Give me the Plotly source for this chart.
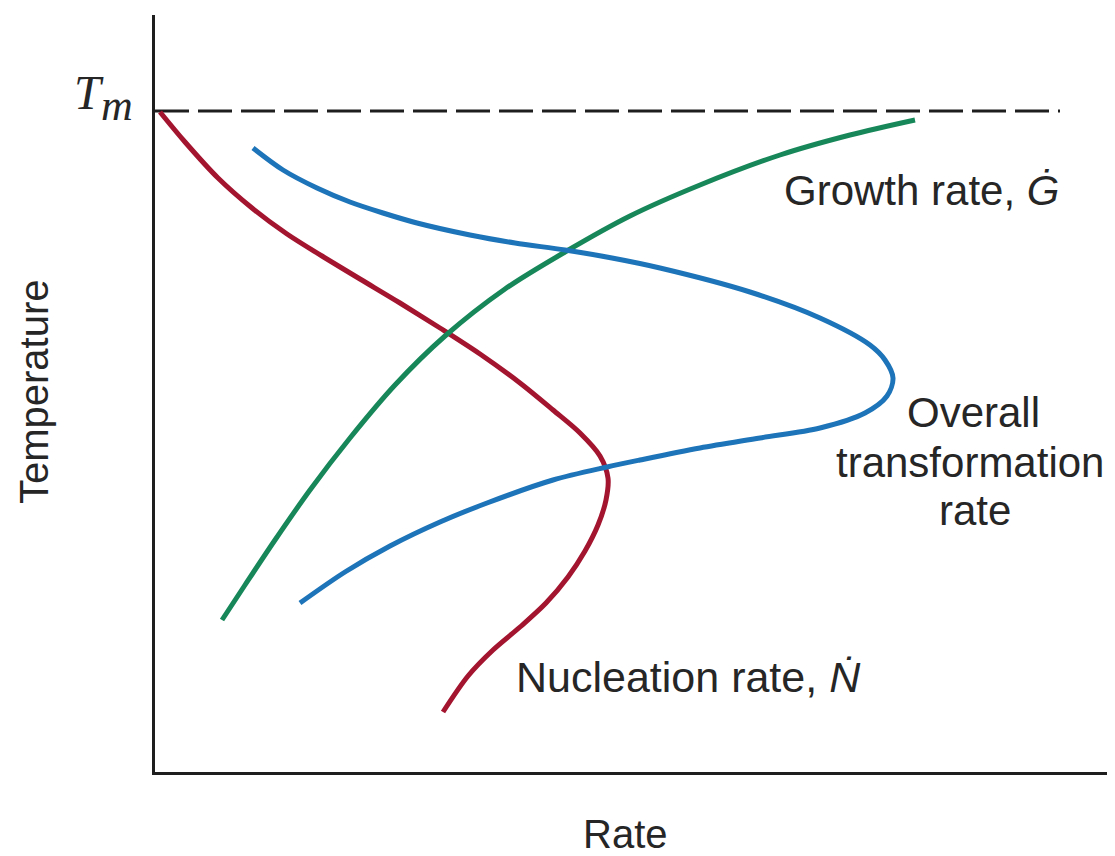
import plotly.graph_objects as go

# Data (rate, temperature) in arbitrary units
nuc_rate = [5, 30, 63, 97, 132, 167, 205, 245, 285, 325, 365, 398, 425, 445, 453, 451, 443, 430, 413, 391, 365, 338, 313, 288]
nuc_temp = [660, 630, 594, 564, 538, 516, 493, 469, 444, 418, 389, 362, 339, 316, 294, 272, 247, 221, 195, 169, 145, 122, 96, 60]

gro_rate = [67, 90, 120, 155, 195, 240, 290, 350, 410, 475, 545, 625, 695, 760]
gro_temp = [152, 187, 232, 282, 334, 387, 436, 483, 520, 556, 587, 617, 637, 652]

ovr_rate = [98, 128, 162, 195, 228, 262, 315, 360, 410, 457, 505, 595, 665, 715, 730, 738, 732, 710, 665, 605, 545, 485, 452, 398, 332, 285, 235, 190, 145]
ovr_temp = [624, 602, 584, 570, 559, 549, 537, 529, 522, 514, 504, 480, 454, 427, 412, 394, 376, 359, 344, 334, 324, 312, 305, 292, 269, 250, 226, 200, 169]

tm_rate = [0, 905]
tm_temp = [661, 661]

RED = "#A3142F"
GREEN = "#17875A"
BLUE = "#1D74B8"
TXT = "#262626"
FONT = "Liberation Sans, Arial, sans-serif"
SERIF = "Liberation Serif, Times New Roman, serif"

fig = go.Figure()
fig.add_trace(go.Scatter(x=tm_rate, y=tm_temp, mode="lines",
                         line=dict(color="#1e1e1e", width=3, dash="34px,9px"),
                         hoverinfo="skip"))
fig.add_trace(go.Scatter(x=nuc_rate, y=nuc_temp, mode="lines",
                         line=dict(color=RED, width=5, shape="spline", smoothing=0.9)))
fig.add_trace(go.Scatter(x=gro_rate, y=gro_temp, mode="lines",
                         line=dict(color=GREEN, width=5, shape="spline", smoothing=0.9)))
fig.add_trace(go.Scatter(x=ovr_rate, y=ovr_temp, mode="lines",
                         line=dict(color=BLUE, width=5, shape="spline", smoothing=0.9)))

anns = [
    dict(xref="x", yref="y", x=766, y=582, text="Growth rate, <i>Ġ</i>",
         font=dict(size=42, color=TXT, family=FONT)),
    dict(xref="x", yref="y", x=533, y=95, text="Nucleation rate, <i>Ṅ</i>",
         font=dict(size=43, color=TXT, family=FONT)),
    dict(xref="x", yref="y", x=818, y=360, text="Overall",
         font=dict(size=42, color=TXT, family=FONT)),
    dict(xref="x", yref="y", x=815, y=310, text="transformation",
         font=dict(size=42, color=TXT, family=FONT)),
    dict(xref="x", yref="y", x=820, y=262, text="rate",
         font=dict(size=42, color=TXT, family=FONT)),
    dict(xref="paper", yref="paper", x=-0.0688, y=0.897, text="<i>T</i>",
         font=dict(size=48, color=TXT, family=SERIF)),
    dict(xref="paper", yref="paper", x=-0.0396, y=0.880, text="<i>m</i>",
         font=dict(size=44, color=TXT, family=SERIF)),
    dict(xref="paper", yref="paper", x=0.49, y=-0.082, text="Rate",
         font=dict(size=40, color=TXT, family=FONT)),
    dict(xref="paper", yref="paper", x=-0.126, y=0.502, text="Temperature", textangle=-90,
         font=dict(size=40, color=TXT, family=FONT)),
]
for a in anns:
    a.update(showarrow=False, xanchor="center", yanchor="middle")
fig.update_layout(annotations=anns)

fig.update_layout(
    width=1107, height=848,
    margin=dict(l=147, r=0, t=7, b=84),
    paper_bgcolor="white", plot_bgcolor="white",
    showlegend=False,
    xaxis=dict(range=[0, 960], showgrid=False, zeroline=False, showticklabels=False,
               ticks="", showline=True, linecolor="#1e1e1e", linewidth=3, fixedrange=True),
    yaxis=dict(range=[0, 757], showgrid=False, zeroline=False, showticklabels=False,
               ticks="", showline=True, linecolor="#1e1e1e", linewidth=3, fixedrange=True),
)

fig.write_html("out.html")
